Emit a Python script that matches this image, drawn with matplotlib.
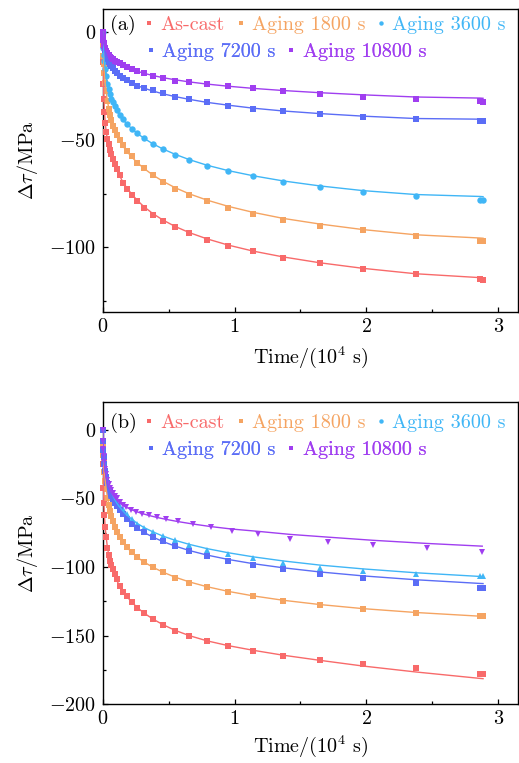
"""Stress relaxation curves, panels (a) and (b)."""
import matplotlib
matplotlib.use("Agg")
import matplotlib.pyplot as plt
from matplotlib.lines import Line2D
from matplotlib.ticker import MultipleLocator

plt.rcParams["font.family"] = "serif"
plt.rcParams["font.serif"] = ["cmr10"]
plt.rcParams["mathtext.fontset"] = "cm"
plt.rcParams["axes.formatter.use_mathtext"] = True

FS = 14.5
LABELS = ["As-cast", "Aging 1800 s", "Aging 3600 s", "Aging 7200 s", "Aging 10800 s"]
COLORS = ["#f86a6a", "#f5a462", "#40b6f6", "#5b6df6", "#a03ef0"]

# time in 10^4 s (shared by most series)
T = [0, 0.002, 0.005, 0.008, 0.012, 0.018, 0.025, 0.035, 0.045, 0.055, 0.065,
     0.077, 0.09, 0.106, 0.127, 0.152, 0.182, 0.22, 0.26, 0.313, 0.379, 0.455,
     0.548, 0.657, 0.791, 0.952, 1.142, 1.37, 1.646, 1.976, 2.374, 2.861, 2.885]
# panel (b), aging 10800 s sampled at slightly shifted times
T_B10800 = [0, 0.002, 0.005, 0.008, 0.012, 0.018, 0.025, 0.035, 0.045, 0.055, 0.065,
            0.077, 0.09, 0.106, 0.127, 0.152, 0.18, 0.215, 0.255, 0.3, 0.35, 0.41,
            0.478, 0.573, 0.682, 0.819, 0.978, 1.18, 1.42, 1.706, 2.047, 2.457, 2.879]

# ---- panel (a): measured points and fitted curves (MPa)
A_ASCAST = [0, -14, -24, -31, -37, -42, -46.3, -49.5, -51.8, -54.5, -56.5, -58.7, -61, -63.4, -66.2, -70.1,
            -72.7, -75.8, -78.6, -81.7, -84.7, -87.8, -90.7, -93.5, -96.5, -99.3, -101.8, -104.8,
            -107.4, -110.0, -112.5, -114.8, -115.0]
A_ASCAST_FIT = [0, -13, -23, -30, -36, -41.5, -45.8, -49.8, -52.6, -54.5, -56.7, -59, -61.3, -63.7, -66.5, -69.6,
                -72.3, -75.2, -78, -81.1, -84.2, -87.2, -90.2, -93.1, -96, -98.9, -101.7, -104.4,
                -107.1, -109.7, -112.2, -114.0, -114.1]
A_1800 = [0, -6, -11, -15, -19, -23.5, -27.5, -32, -35.5, -38.5, -41, -43.5, -45.5, -47.8, -50, -52.5,
          -55.2, -57.6, -60.6, -63.1, -66.2, -69.6, -72.7, -75.8, -78.6, -81.7, -84.4, -87.1,
          -89.8, -92.1, -94.5, -96.8, -97.0]
A_1800_FIT = [0, -5.5, -10.5, -14.5, -18.8, -23.2, -27.4, -31.8, -35.2, -38.2, -40.8, -43.3, -45.6, -47.9, -50.3,
              -52.8, -55.3, -58, -60.5, -63.3, -66.3, -69.2, -72.2, -75.1, -78, -80.9, -83.7, -86.5,
              -89.1, -91.7, -94.1, -95.6, -95.7]
A_3600 = [0, -4, -7.5, -10.5, -13.5, -17, -20.5, -24, -26.5, -28.8, -30.8, -32.6, -34.4, -36.3, -38.3, -40.3,
          -42.6, -44.9, -47, -49.2, -52, -54.2, -57, -59.5, -62.2, -64.6, -66.8, -69.6, -71.9, -74,
          -76.3, -77.8, -78.0]
A_3600_FIT = [0, -3.8, -7.3, -10.3, -13.4, -16.8, -20.2, -23.7, -26.4, -28.7, -30.7, -32.6, -34.5, -36.4, -38.4,
              -40.5, -42.6, -44.8, -46.9, -49.3, -51.8, -54.2, -56.7, -59.2, -61.8, -64.3, -66.7, -69.1,
              -71.4, -73.6, -75.4, -76.3, -76.4]
A_7200 = [0, -2, -3.5, -5, -6.5, -8.5, -10.5, -12.3, -13.7, -14.8, -15.8, -16.8, -17.8, -19, -20.2, -21.3,
          -22.4, -23.5, -24.8, -25.8, -27, -28.4, -30, -31.2, -32.6, -34.3, -35.7, -36.7, -38.1, -39.3,
          -40.4, -41.2, -41.3]
A_7200_FIT = [0, -2, -3.5, -5, -6.6, -8.5, -10.3, -12.2, -13.6, -14.8, -15.8, -16.8, -17.9, -19, -20.1, -21.3,
              -22.5, -23.7, -24.8, -26, -27.3, -28.6, -29.9, -31.2, -32.6, -33.9, -35.3, -36.6, -37.8,
              -39, -40.1, -40.4, -40.5]
A_10800 = [0, -2, -3.5, -4.8, -6, -7.5, -8.7, -9.8, -10.6, -11.3, -12, -12.6, -13.2, -13.8, -14.5, -15.3,
           -16.1, -17, -18, -19, -20.3, -21.4, -22.5, -23.3, -24.2, -25, -26.1, -27.4, -28.8, -30,
           -30.9, -32, -32.2]
A_10800_FIT = [0, -2, -3.5, -4.8, -6, -7.4, -8.6, -9.7, -10.6, -11.3, -12, -12.6, -13.3, -14, -14.7, -15.5,
               -16.3, -17.2, -18.1, -19.1, -20.1, -21.1, -22.1, -23.1, -24.1, -25.1, -26.1, -27.1,
               -28.1, -29.1, -30.1, -30.6, -30.7]

# ---- panel (b)
B_ASCAST = [0, -25, -42, -53, -62, -71, -78, -86, -91.5, -95.5, -98.5, -101.5, -105, -109, -114, -118,
            -121.5, -125.5, -129.7, -133.7, -138.2, -142.3, -146.5, -150.3, -154, -157.6, -161.2,
            -164.8, -167.8, -170.9, -173.6, -178.2, -178.3]
B_ASCAST_FIT = [0, -24, -41, -52, -61.5, -70.5, -77.5, -85.5, -91, -95.3, -98.8, -102.3, -105.8, -109.7,
                -113.8, -117.8, -121.6, -125.5, -129.5, -133.6, -137.9, -142, -146.2, -150.1, -153.9,
                -157.4, -160.8, -164.4, -168.1, -172.3, -176.6, -181.3, -181.5]
B_1800 = [0, -10, -18, -24, -30.5, -37, -43, -49.5, -54.5, -59, -63, -66.8, -70.5, -74.2, -78, -82,
          -85.5, -89.2, -93, -96.3, -100.1, -104, -107.9, -111.5, -114.7, -118, -121.2, -124.8,
          -127.8, -130.4, -133.3, -135.8, -136.0]
B_1800_FIT = [0, -9.5, -17.5, -23.5, -30, -36.5, -42.5, -49, -54, -58.5, -62.5, -66.5, -70.3, -74.1, -78,
              -81.8, -85.6, -89.3, -92.8, -96.4, -100.1, -103.7, -107.4, -110.9, -114.4, -117.8, -121.1,
              -124.3, -127.4, -130.4, -133.2, -135.9, -136.0]
B_3600 = [0, -8, -14, -19, -24, -29, -33, -37.5, -41, -43.8, -46, -48.2, -50.4, -52.7, -55.2, -58,
          -61.5, -65.3, -68.5, -71.3, -74.2, -77.5, -80.5, -83.6, -87.3, -90.6, -93.8, -97.3,
          -100.4, -103, -105, -106.7, -106.8]
B_3600_FIT = [0, -7.5, -13.5, -18.5, -23.5, -28.5, -32.8, -37.3, -40.8, -43.7, -46.1, -48.5, -50.9, -53.4,
              -56.1, -59, -62, -65.1, -68.1, -71.2, -74.3, -77.4, -80.5, -83.5, -86.6, -89.6, -92.6,
              -95.6, -98.6, -101.4, -104.2, -106.9, -107.0]
B_7200 = [0, -8, -14.5, -19.5, -25, -30, -34.5, -39, -42.5, -45.5, -48, -50.5, -53, -55.5, -58.5, -61.5,
          -65, -68.5, -71.5, -74.5, -78, -81.2, -84.8, -88.5, -92.1, -95.3, -98.2, -101.8, -105,
          -107.9, -111.5, -115.1, -115.2]
B_7200_FIT = [0, -7.8, -14.2, -19.3, -24.8, -29.8, -34.3, -38.8, -42.3, -45.3, -47.9, -50.5, -53.1, -55.8,
              -58.7, -61.8, -65, -68.3, -71.5, -74.8, -78.1, -81.4, -84.7, -88, -91.3, -94.5, -97.6,
              -100.6, -103.6, -106.5, -109.3, -112, -112.1]
B_10800 = [0, -8, -14, -19, -23.5, -28.5, -32.5, -36.5, -39.5, -42, -44, -46, -48, -50, -52.5, -54.5,
           -56.5, -58.5, -59.9, -61.2, -62.2, -63.3, -64.8, -66.5, -68.5, -70.8, -74, -76.2, -79.3,
           -81.7, -84.1, -86.5, -89]
B_10800_FIT = [0, -8, -14.2, -19.2, -24, -29, -33.5, -38, -41.2, -43.7, -45.7, -47.6, -49.4, -51.2, -53,
               -54.8, -56.5, -58.1, -59.6, -61, -62.4, -63.8, -65.2, -66.9, -68.6, -70.5, -72.3, -74,
               -76.2, -78.2, -80.5, -82.8, -84.8]

PANEL_A = [(T, A_ASCAST, A_ASCAST_FIT, "s"), (T, A_1800, A_1800_FIT, "s"), (T, A_3600, A_3600_FIT, "o"),
           (T, A_7200, A_7200_FIT, "s"), (T, A_10800, A_10800_FIT, "s")]
PANEL_B = [(T, B_ASCAST, B_ASCAST_FIT, "s"), (T, B_1800, B_1800_FIT, "s"), (T, B_3600, B_3600_FIT, "^"),
           (T, B_7200, B_7200_FIT, "s"), (T_B10800, B_10800, B_10800_FIT, "v")]
LEGEND_MARKERS = ["s", "s", "o", "s", "s"]
MSIZE = {"s": 4.2, "o": 4.6, "^": 5.0, "v": 5.0}


def add_legend(ax, idx, x, y):
    handles = [Line2D([], [], ls="none", marker=LEGEND_MARKERS[i], color=COLORS[i],
                      markersize=3.2, markeredgewidth=0) for i in idx]
    leg = ax.legend(handles, [LABELS[i] for i in idx], loc="center left", bbox_to_anchor=(x, y),
                    ncol=len(idx), frameon=False, fontsize=FS, borderpad=0, borderaxespad=0,
                    handlelength=0.7, handletextpad=0.2, columnspacing=0.45,
                    labelcolor=[COLORS[i] for i in idx])
    ax.add_artist(leg)


def draw_panel(ax, panel, ylim, yticks, tag, rows_y, xlabelpad):
    for (t, pts, fit, mk), c in zip(panel, COLORS):
        ax.plot(t, pts, ls="none", marker=mk, ms=MSIZE[mk], color=c, mew=0, clip_on=False, zorder=3)
        ax.plot(t, fit, color=c, lw=1.0, zorder=4)
    ax.set_xlim(0, 3.15)
    ax.set_ylim(*ylim)
    ax.set_yticks(yticks)
    ax.xaxis.set_major_locator(MultipleLocator(1))
    ax.xaxis.set_minor_locator(MultipleLocator(0.5))
    ax.yaxis.set_minor_locator(MultipleLocator(25))
    ax.tick_params(which="both", direction="in", labelsize=FS, width=0.9)
    ax.tick_params(axis="y", pad=5)
    ax.tick_params(axis="x", pad=4)
    ax.tick_params(which="major", length=3.8)
    ax.tick_params(which="minor", length=2.4)
    for s in ax.spines.values():
        s.set_linewidth(1.0)
    ax.set_xlabel(r"Time/(10$^4$ s)", fontsize=FS, labelpad=xlabelpad)
    ax.set_ylabel(r"$\Delta\tau/\mathrm{MPa}$", fontsize=FS, labelpad=6)
    ax.text(0.018, rows_y[0], tag, transform=ax.transAxes, fontsize=FS, va="center", ha="left")
    add_legend(ax, [0, 1, 2], 0.095, rows_y[0])
    add_legend(ax, [3, 4], 0.099, rows_y[1])


fig = plt.figure(figsize=(5.19, 7.63), dpi=100)
ax_a = fig.add_axes([0.198, 0.591, 0.800, 0.397])
ax_b = fig.add_axes([0.198, 0.0773, 0.800, 0.396])
draw_panel(ax_a, PANEL_A, (-130, 10.7), [0, -50, -100], "(a)", (0.948, 0.86), 6.5)
draw_panel(ax_b, PANEL_B, (-200, 20.5), [0, -50, -100, -150, -200], "(b)", (0.93, 0.84), 4.5)
fig.savefig("out.png", dpi=100)
